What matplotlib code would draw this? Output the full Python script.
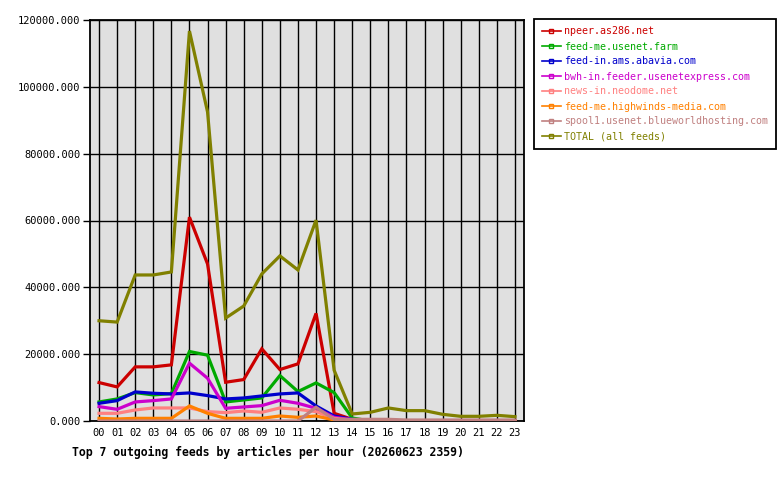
import numpy as np
from matplotlib import pyplot as plt
from matplotlib.lines import Line2D

# hours of the day
hours = ['%02d' % h for h in range(24)]

# articles per hour
npeer = [11500, 10200, 16200, 16200, 16800, 61000, 47000, 11600, 12400, 21600, 15400, 17100,
         32200, 2300, 500, 0, 0, 0, 0, 0, 0, 0, 0, 0]
usenet_farm = [5700, 6600, 8500, 7800, 8200, 20800, 19700, 5700, 6300, 6900, 13600, 8800,
               11400, 8500, 900, 0, 0, 0, 0, 0, 0, 0, 0, 0]
abavia = [5300, 6100, 8700, 8300, 8100, 8400, 7600, 6600, 6900, 7500, 8100, 8400,
          4500, 1500, 500, 0, 0, 0, 0, 0, 0, 0, 0, 0]
usenetexpress = [4300, 3500, 5700, 6100, 6600, 17300, 12800, 3800, 4200, 4600, 6200, 5300,
                 3800, 1100, 400, 0, 0, 0, 0, 0, 0, 0, 0, 0]
neodome = [2300, 2300, 3300, 3900, 3900, 3900, 2800, 2500, 3000, 2600, 3900, 3500,
           2800, 800, 200, 0, 0, 0, 0, 0, 0, 0, 0, 0]
highwinds = [800, 600, 800, 800, 800, 4500, 2300, 800, 800, 800, 1500, 1100,
             1500, 300, 0, 0, 0, 0, 0, 0, 0, 0, 0, 0]
blueworld = [0, 0, 0, 0, 0, 0, 0, 0, 0, 0, 0, 0,
             4100, 500, 500, 500, 500, 300, 300, 300, 300, 300, 300, 300]
total = [30000, 29600, 43700, 43700, 44600, 116700, 92500, 30800, 34400, 44000, 49400, 45200,
         60100, 15200, 2100, 2600, 3900, 3100, 3100, 2000, 1400, 1400, 1700, 1300]

names = ['npeer.as286.net', 'feed-me.usenet.farm', 'feed-in.ams.abavia.com',
         'bwh-in.feeder.usenetexpress.com', 'news-in.neodome.net',
         'feed-me.highwinds-media.com', 'spool1.usenet.blueworldhosting.com',
         'TOTAL (all feeds)']
series = [npeer, usenet_farm, abavia, usenetexpress, neodome, highwinds, blueworld, total]
colors = ['#cc0000', '#00aa00', '#0000cc', '#cc00cc', '#ff8080', '#ff8000', '#c08080', '#808000']

plt.rcParams['font.family'] = 'DejaVu Sans Mono'

fig = plt.figure(figsize=(7.8, 4.8), dpi=100)
ax = fig.add_axes([90/780, 59/480, 434/780, 401/480])
ax.set_facecolor('#e0e0e0')

x = np.arange(24)
for s, c in zip(series, colors):
    ax.plot(x, s, color=c, lw=2.3, solid_joinstyle='miter', zorder=3)

ax.set_xlim(-0.5, 23.5)
ax.set_ylim(0, 120000)
ax.set_xticks(x)
ax.set_xticklabels(hours, fontsize=7.5)
yt = np.arange(0, 120001, 20000)
ax.set_yticks(yt)
ax.set_yticklabels(['%d.000' % v for v in yt], fontsize=7.5)
ax.tick_params(axis='x', length=0, pad=5)
ax.tick_params(axis='y', length=5, width=1.0, pad=2)
ax.grid(True, color='black', lw=1.0, zorder=1)
ax.set_axisbelow(True)
for sp in ax.spines.values():
    sp.set_linewidth(1.3)

fig.text(72/780, 1 - 452/480, 'Top 7 outgoing feeds by articles per hour (20260623 2359)',
         fontsize=8.3, fontweight='bold', va='center')

handles = [Line2D([0], [0], color=c, lw=1.2, marker='s', ms=3, mfc='none', mec=c, mew=1)
           for c in colors]
leg = fig.legend(handles, names, loc='upper left', bbox_to_anchor=(534/780, 1 - 19/480),
                 borderaxespad=0, fancybox=False, edgecolor='black', framealpha=1,
                 fontsize=7.2, labelcolor='linecolor', handlelength=1.9, handletextpad=0.35,
                 labelspacing=0.5, borderpad=0.75)
leg.get_frame().set_linewidth(1.3)

fig.savefig('out.png', dpi=100)
